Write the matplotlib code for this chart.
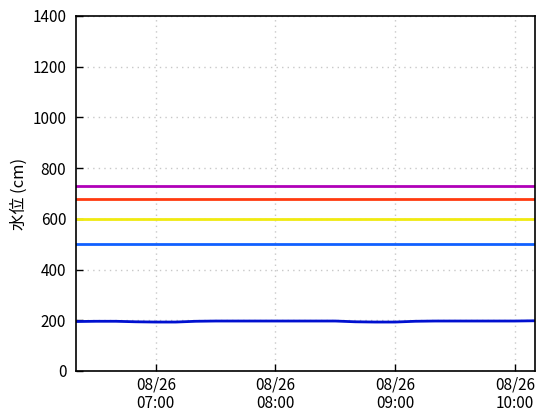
import datetime as dt
import matplotlib
matplotlib.use("Agg")
import matplotlib.pyplot as plt
import matplotlib.dates as mdates

plt.rcParams['font.family'] = ['Noto Sans CJK JP', 'DejaVu Sans']

# 水位データ (10分毎)
times = ["06:20", "06:30", "06:40", "06:50", "07:00", "07:10", "07:20", "07:30",
         "07:40", "07:50", "08:00", "08:10", "08:20", "08:30", "08:40", "08:50",
         "09:00", "09:10", "09:20", "09:30", "09:40", "09:50", "10:00", "10:10"]
levels = [195, 196, 196, 194, 193, 193, 196, 197, 197, 197, 197, 197, 197, 197,
          194, 193, 193, 196, 197, 197, 197, 197, 197, 198]

# 基準水位
ref_values = [730, 680, 600, 500]
ref_colors = ["#b000b8", "#ff3a10", "#f0ea10", "#1060ff"]

x = [dt.datetime(2024, 8, 26, int(t[:2]), int(t[3:])) for t in times]

fig = plt.figure(figsize=(5.6, 4.2), dpi=100)
ax = fig.add_axes([0.1357, 0.1167, 0.955 - 0.1357, 0.962 - 0.1167])

for v, c in zip(ref_values, ref_colors):
    ax.axhline(v, color=c, lw=2)

ax.plot(x, levels, color="#0010d0", lw=2)

ax.set_xlim(x[0], x[-1])
ax.set_ylim(0, 1400)
ax.set_yticks(range(0, 1401, 200))
ax.xaxis.set_major_locator(mdates.HourLocator())
ax.xaxis.set_major_formatter(mdates.DateFormatter("%m/%d\n%H:%M"))
ax.tick_params(direction="in", length=5, labelsize=11, width=1)
ax.tick_params(axis="y", pad=7)
ax.tick_params(axis="x", pad=4)
for lbl in ax.get_xticklabels():
    lbl.set_linespacing(1.1)
ax.grid(True, color="#c8c8c8", linestyle=(0, (1, 3)), lw=1)
for s in ax.spines.values():
    s.set_linewidth(1.2)
ax.set_ylabel("水位 (cm)", fontsize=12, labelpad=3)

fig.savefig("out.png", dpi=100)
